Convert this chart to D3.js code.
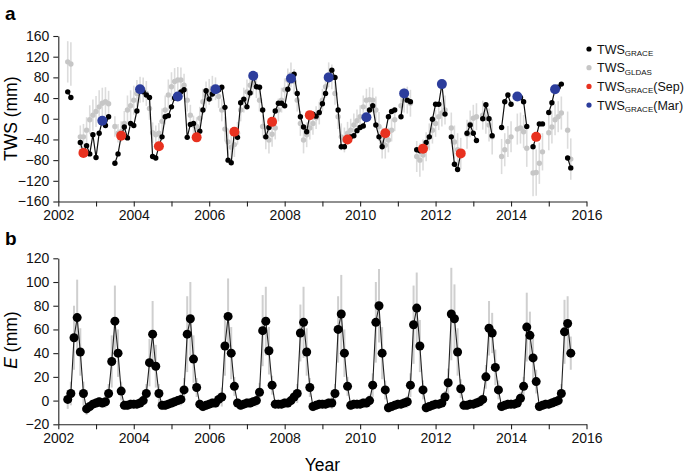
<!DOCTYPE html>
<html>
<head>
<meta charset="utf-8">
<script src="https://cdn.jsdelivr.net/npm/d3@7"></script>
<style>
    body { margin: 0; background: #fff; }
    svg { font-family: Helvetica, Arial, "Liberation Sans", sans-serif; }
    .axis path, .axis line { stroke: #222; stroke-width: 1.1; }
</style>
</head>
<body>
<div id="chart"></div>
<script>
/*
    Data, one row per year (Jan..Dec), null = no value
*/
var years = [2002, 2003, 2004, 2005, 2006, 2007, 2008, 2009, 2010, 2011, 2012, 2013, 2014, 2015]

var twsGrace = [
    [null, null, null, 52, 41, null, null, -46, -66, -52, -68, -31],
    [-75, -28, -4, -13, 4, null, -86, -68, -33, -16, -37, -9],
    [-13, 15, 57, 52, 46, 41, -73, -76, -53, -35, 4, 6],
    [23, 40, 43, 52, 56, -36, -11, -9, -36, -24, 17, 54],
    [38, 48, 57, 56, 61, 22, -80, -85, -25, -36, 31, 38],
    [23, 50, 83, 62, 61, 17, -35, -17, -6, 15, 30, 30],
    [25, 57, 78, 86, 49, 4, -16, -25, 7, 9, 5, 12],
    [29, 49, 80, 94, 80, 17, -54, -54, -40, -35, -33, -23],
    [-17, -14, 3, 17, 25, -12, -35, -54, -28, 4, 14, 17],
    [null, 4, 49, 36, 33, null, -60, -62, -58, -46, -35, -1],
    [28, 28, 67, 9, null, -35, -88, -98, -67, null, -28, -12],
    [-28, -42, null, 0, 27, 0, -33, null, null, -17, 33, 46],
    [28, null, 43, 41, 33, -15, null, -54, -35, -10, -10, null],
    [12, 31, 57, 61, 67, null, -76, -95, null, null, null, null]
]

var twsGldas = [
    [null, null, null, 110, 106, null, null, -35, -35, -22, -2, 7],
    [14, 23, 30, 33, 29, null, -15, -28, -25, -9, 17, 25],
    [36, 49, 56, 56, 49, 20, -27, -31, -28, -5, 17, 46],
    [62, 72, 75, 75, 65, 36, 7, -12, -15, 1, 33, 46],
    [52, 59, 58, 43, 17, -20, -45, -55, -50, -28, 17, 36],
    [52, 65, 69, 62, 36, -15, -35, -41, -30, -18, 17, 36],
    [56, 75, 85, 72, 36, -9, -41, -31, -18, -9, 2, 11],
    [36, 62, 85, 81, 49, 4, -35, -41, -28, -22, -12, -4],
    [4, 23, 36, 37, 36, 17, -15, -47, -51, -41, -22, -2],
    [null, 25, 36, 36, 30, null, -73, -80, -70, -54, -35, -22],
    [-9, 4, 11, 17, null, -18, -45, -60, -67, null, -30, -10],
    [1, 4, null, 7, 1, -12, -35, null, null, -73, -60, -44],
    [-35, null, -20, -18, -25, -57, null, -105, -104, -86, -64, null],
    [-27, -16, -2, 4, 11, null, -22, -78, null, null, null, null]
]

var twsGldasErr = [
    [null, null, null, 40, 42, null, null, 22, 25, 25, 28, 30],
    [30, 32, 30, 28, 25, null, 20, 18, 20, 24, 28, 30],
    [28, 26, 25, 24, 24, 22, 20, 18, 20, 25, 28, 30],
    [28, 26, 25, 24, 22, 22, 20, 18, 18, 22, 25, 26],
    [25, 24, 22, 22, 22, 24, 26, 26, 24, 22, 22, 24],
    [24, 24, 22, 22, 22, 22, 24, 26, 24, 22, 22, 24],
    [22, 22, 24, 24, 22, 24, 26, 24, 22, 22, 22, 22],
    [22, 22, 24, 24, 22, 24, 26, 24, 22, 22, 22, 22],
    [22, 22, 22, 24, 24, 26, 28, 30, 26, 24, 22, 22],
    [null, 24, 24, 26, 26, null, 30, 32, 30, 28, 26, 26],
    [26, 26, 26, 28, null, 30, 32, 32, 30, null, 28, 26],
    [26, 26, null, 28, 30, 32, 34, null, null, 34, 32, 30],
    [30, null, 30, 30, 32, 36, null, 45, 45, 40, 36, null],
    [34, 32, 30, 30, 32, null, 36, 40, null, null, null, null]
]

var evap = [
    [null, null, null, 1, 6, 53, 70, 41, 6, -7, -5, -3],
    [-2, -1, -2, -1, 6, 33, 67, 40, 8, -4, -4, -3],
    [-3, -3, -2, 0, 6, 32, 56, 29, 6, -4, -4, -3],
    [-2, -1, 0, 1, 9, 56, 69, 35, 11, -3, -5, -4],
    [-3, -2, -2, 1, 3, 46, 71, 40, 12, -2, -4, -3],
    [-2, -2, -1, 0, 7, 59, 67, 42, 13, -3, -3, -3],
    [-2, -2, 0, 3, 6, 57, 66, 41, 11, -5, -4, -3],
    [-3, -3, -2, -2, 6, 60, 73, 40, 12, -4, -3, -3],
    [-3, -2, -2, 0, 13, 66, 80, 40, 9, -6, -5, -4],
    [-3, -3, -2, -1, 13, 64, 78, 46, 9, -6, -5, -4],
    [-3, -3, -2, 3, 15, 73, 69, 41, 10, -4, -4, -3],
    [-3, -2, -1, 1, 20, 61, 57, 28, 9, -5, -4, -3],
    [-3, -3, -2, 2, 12, 62, 55, 36, 16, -5, -4, -3],
    [-3, -2, -1, 0, 6, 58, 65, 40, null, null, null, null]
]

var evapErr = [
    [null, null, null, 8, 10, 27, 32, 20, 10, 5, 4, 4],
    [4, 4, 4, 5, 8, 22, 30, 20, 8, 4, 4, 4],
    [4, 4, 4, 5, 8, 20, 28, 18, 8, 4, 4, 4],
    [4, 4, 4, 5, 10, 32, 31, 20, 8, 4, 4, 4],
    [4, 4, 4, 5, 8, 25, 32, 22, 8, 4, 4, 4],
    [4, 4, 4, 5, 8, 30, 29, 20, 8, 4, 4, 4],
    [4, 4, 4, 5, 8, 24, 30, 20, 8, 4, 4, 4],
    [4, 4, 4, 5, 8, 28, 33, 20, 8, 4, 4, 4],
    [4, 4, 4, 5, 10, 34, 31, 22, 8, 4, 4, 4],
    [4, 4, 4, 5, 10, 33, 30, 22, 8, 4, 4, 4],
    [4, 4, 4, 5, 12, 39, 29, 20, 8, 4, 4, 4],
    [4, 4, 4, 5, 10, 23, 17, 15, 8, 4, 4, 4],
    [4, 4, 4, 5, 8, 29, 20, 18, 10, 4, 4, 4],
    [4, 4, 4, 5, 8, 27, 23, 14, null, null, null, null]
]

var xTicks = d3.range(2002, 2017)
var twsTicks = [-160, -120, -80, -40, 0, 40, 80, 120, 160]
var evapTicks = [-20, 0, 20, 40, 60, 80, 100, 120]

var legendItems = [
    { label: "TWS", sub: "GRACE", tail: "", color: "#000" },
    { label: "TWS", sub: "GLDAS", tail: "", color: "#c6c6c6" },
    { label: "TWS", sub: "GRACE", tail: "(Sep)", color: "#e8311f" },
    { label: "TWS", sub: "GRACE", tail: "(Mar)", color: "#2c3d9c" }
]

/*
    Turn the year rows into one list of monthly points
    (time = start of month as a decimal year)
*/
function monthly(values, errs) {
    var out = []
    years.forEach(function (y, i) {
        values[i].forEach(function (v, m) {
            out.push({ t: y + m / 12, month: m + 1, v: v, e: errs ? errs[i][m] : null })
        })
    })
    return out
}

var grace = monthly(twsGrace)
var gldas = monthly(twsGldas, twsGldasErr).filter(function (d) { return d.v != null })
var evapData = monthly(evap, evapErr)

var width = 685
var height = 476

var svg = d3.select("#chart")
    .append("svg")
    .attr("width", width)
    .attr("height", height)

var x = d3.scaleLinear().domain([2002, 2016]).range([58.3, 586.5])
var yTop = d3.scaleLinear().domain([-160, 160]).range([201.5, 36])
var yBot = d3.scaleLinear().domain([-20, 120]).range([424.3, 258.3])

/*
    R style axes: short ticks, labels on even years only
*/
function xAxis(g, y0) {
    g.attr("class", "axis")
        .attr("transform", "translate(0," + y0 + ")")
        .call(d3.axisBottom(x)
            .tickValues(xTicks)
            .tickSize(5)
            .tickSizeOuter(0)
            .tickPadding(4)
            .tickFormat(function (d) { return d % 2 === 0 ? d : "" }))
    g.attr("font-size", 14).attr("font-family", null)
    g.selectAll("text").attr("fill", "#111")
}

function yAxis(g, scale, ticks) {
    g.attr("class", "axis")
        .attr("transform", "translate(" + x.range()[0] + ",0)")
        .call(d3.axisLeft(scale)
            .tickValues(ticks)
            .tickSize(5)
            .tickSizeOuter(0)
            .tickPadding(4))
    g.attr("font-size", 14).attr("font-family", null)
    g.selectAll("text").attr("fill", "#111")
}

svg.append("g").call(xAxis, yTop.range()[0])
svg.append("g").call(yAxis, yTop, twsTicks)
svg.append("g").call(xAxis, yBot.range()[0])
svg.append("g").call(yAxis, yBot, evapTicks)

/*
    Panel a : TWS
*/
var panelA = svg.append("g")

panelA.selectAll(".gerr")
    .data(gldas)
    .enter().append("line")
    .attr("x1", function (d) { return x(d.t) })
    .attr("x2", function (d) { return x(d.t) })
    .attr("y1", function (d) { return yTop(d.v - d.e) })
    .attr("y2", function (d) { return yTop(d.v + d.e) })
    .attr("stroke", "#dcdcdc")
    .attr("stroke-width", 1.6)

panelA.selectAll(".gdot")
    .data(gldas)
    .enter().append("circle")
    .attr("cx", function (d) { return x(d.t) })
    .attr("cy", function (d) { return yTop(d.v) })
    .attr("r", 2.7)
    .attr("fill", "#c6c6c6")

var graceLine = d3.line()
    .defined(function (d) { return d.v != null })
    .x(function (d) { return x(d.t) })
    .y(function (d) { return yTop(d.v) })

panelA.append("path")
    .datum(grace)
    .attr("d", graceLine)
    .attr("fill", "none")
    .attr("stroke", "#111")
    .attr("stroke-width", 1.2)

var graceOk = grace.filter(function (d) { return d.v != null })

panelA.selectAll(".kdot")
    .data(graceOk)
    .enter().append("circle")
    .attr("cx", function (d) { return x(d.t) })
    .attr("cy", function (d) { return yTop(d.v) })
    .attr("r", 2.7)
    .attr("fill", "#000")

panelA.selectAll(".sep")
    .data(graceOk.filter(function (d) { return d.month === 9 }))
    .enter().append("circle")
    .attr("cx", function (d) { return x(d.t) })
    .attr("cy", function (d) { return yTop(d.v) })
    .attr("r", 5)
    .attr("fill", legendItems[2].color)

panelA.selectAll(".mar")
    .data(graceOk.filter(function (d) { return d.month === 3 }))
    .enter().append("circle")
    .attr("cx", function (d) { return x(d.t) })
    .attr("cy", function (d) { return yTop(d.v) })
    .attr("r", 5)
    .attr("fill", legendItems[3].color)

/*
    Legend
*/
var legend = svg.append("g")
    .selectAll("g")
    .data(legendItems)
    .enter().append("g")
    .attr("transform", function (d, i) { return "translate(589," + (49 + i * 18.7) + ")" })

legend.append("circle")
    .attr("r", 2.6)
    .attr("fill", function (d) { return d.color })

var ltext = legend.append("text")
    .attr("x", 8)
    .attr("y", 4.5)
    .attr("font-size", 12.5)
    .attr("fill", "#111")
ltext.append("tspan").text(function (d) { return d.label })
ltext.append("tspan").attr("font-size", 8).attr("dy", 2.5).text(function (d) { return d.sub })
ltext.append("tspan").attr("dy", -2.5).text(function (d) { return d.tail })

/*
    Panel b : E
*/
var panelB = svg.append("g")
var evapOk = evapData.filter(function (d) { return d.v != null })

panelB.selectAll(".eerr")
    .data(evapOk)
    .enter().append("line")
    .attr("x1", function (d) { return x(d.t) })
    .attr("x2", function (d) { return x(d.t) })
    .attr("y1", function (d) { return yBot(d.v - d.e) })
    .attr("y2", function (d) { return yBot(d.v + d.e) })
    .attr("stroke", "#cfcfcf")
    .attr("stroke-width", 2)

var evapLine = d3.line()
    .defined(function (d) { return d.v != null })
    .x(function (d) { return x(d.t) })
    .y(function (d) { return yBot(d.v) })

panelB.append("path")
    .datum(evapData)
    .attr("d", evapLine)
    .attr("fill", "none")
    .attr("stroke", "#222")
    .attr("stroke-width", 1.1)

panelB.selectAll(".edot")
    .data(evapOk)
    .enter().append("circle")
    .attr("cx", function (d) { return x(d.t) })
    .attr("cy", function (d) { return yBot(d.v) })
    .attr("r", 4.5)
    .attr("fill", "#000")

/*
    Titles and panel letters
*/
svg.append("text")
    .attr("transform", "translate(17," + yTop(0) + ") rotate(-90)")
    .attr("text-anchor", "middle")
    .attr("font-size", 17.5)
    .text("TWS (mm)")

var eTitle = svg.append("text")
    .attr("transform", "translate(17,340) rotate(-90)")
    .attr("text-anchor", "middle")
    .attr("font-size", 17.5)
eTitle.append("tspan").attr("font-style", "italic").text("E")
eTitle.append("tspan").text(" (mm)")

svg.append("text")
    .attr("x", (x.range()[0] + x.range()[1]) / 2)
    .attr("y", 471)
    .attr("text-anchor", "middle")
    .attr("font-size", 17.5)
    .text("Year")

svg.append("text")
    .attr("x", 5).attr("y", 20)
    .attr("font-size", 19).attr("font-weight", "bold")
    .text("a")

svg.append("text")
    .attr("x", 5).attr("y", 245)
    .attr("font-size", 19).attr("font-weight", "bold")
    .text("b")
</script>
</body>
</html>
